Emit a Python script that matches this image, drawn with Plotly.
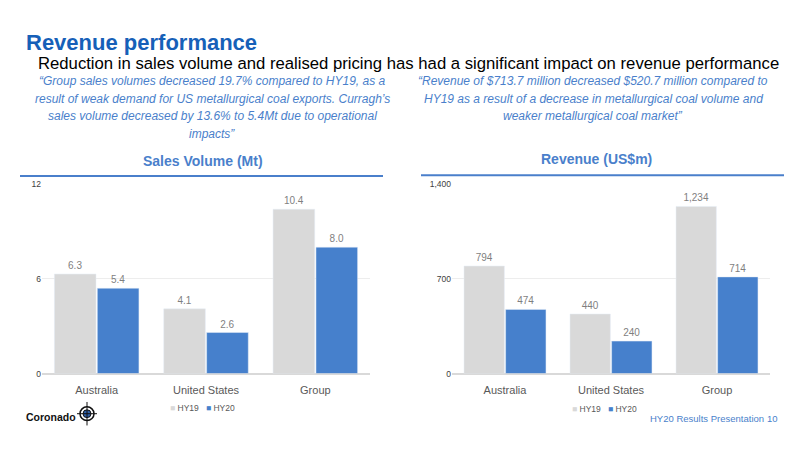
import plotly.graph_objects as go

categories = ["Australia", "United States", "Group"]
volume_hy19 = [6.3, 4.1, 10.4]
volume_hy20 = [5.4, 2.6, 8.0]
revenue_hy19 = [794, 440, 1234]
revenue_hy20 = [474, 240, 714]
volume_ticks = [0, 6, 12]
revenue_ticks = [0, 700, 1400]

GRAY = "#D9D9D9"
BLUE = "#4680CC"
TXT_BLUE = "#4A7FCB"
FONT = "Liberation Sans, Arial, sans-serif"

W, H = 800, 450
def px(x):
    return x / W
def py(y):
    return 1 - y / H

fig = go.Figure()

label_font = dict(family=FONT, size=10, color="#7F7F7F")

fig.add_trace(go.Bar(x=categories, y=volume_hy19, name="HY19", marker_color=GRAY,
                     texttemplate="%{y:.1f}", textposition="outside", textfont=label_font,
                     cliponaxis=False, xaxis="x", yaxis="y", showlegend=False))
fig.add_trace(go.Bar(x=categories, y=volume_hy20, name="HY20", marker_color=BLUE,
                     texttemplate="%{y:.1f}", textposition="outside", textfont=label_font,
                     cliponaxis=False, xaxis="x", yaxis="y", showlegend=False))
fig.add_trace(go.Bar(x=categories, y=revenue_hy19, name="HY19", marker_color=GRAY,
                     texttemplate="%{y:,.0f}", textposition="outside", textfont=label_font,
                     cliponaxis=False, xaxis="x2", yaxis="y2", showlegend=False))
fig.add_trace(go.Bar(x=categories, y=revenue_hy20, name="HY20", marker_color=BLUE,
                     texttemplate="%{y:,.0f}", textposition="outside", textfont=label_font,
                     cliponaxis=False, xaxis="x2", yaxis="y2", showlegend=False))

ydom = [py(377), py(183)]
xaxis_common = dict(showgrid=False, showline=False, ticks="", fixedrange=True,
                    ticklabelstandoff=8,
                    tickfont=dict(family=FONT, size=11, color="#595959"))
yaxis_common = dict(showgrid=True, gridcolor="#EDEDED", gridwidth=1, zeroline=True,
                    zerolinecolor=GRAY, zerolinewidth=1.5, showline=False, ticks="",
                    tickfont=dict(family=FONT, size=8.5, color="#404040"))

fig.update_layout(
    width=W, height=H, margin=dict(l=0, r=0, t=0, b=0),
    paper_bgcolor="white", plot_bgcolor="white",
    barmode="group", bargap=0.215, bargroupgap=0.03,
    xaxis=dict(domain=[px(42), px(370)], anchor="y", **xaxis_common),
    yaxis=dict(domain=ydom, anchor="x", range=[0, 12], tickvals=volume_ticks, **yaxis_common),
    xaxis2=dict(domain=[px(452), px(770)], anchor="y2", **xaxis_common),
    yaxis2=dict(domain=ydom, anchor="x2", range=[0, 1400], tickvals=revenue_ticks,
                tickformat=",", **yaxis_common),
)

ann = []
def text(x, y, s, size, color, bold=False, italic=False, xanchor="left"):
    ann.append(dict(x=px(x), y=py(y), xref="paper", yref="paper", text=s, showarrow=False,
                    xanchor=xanchor, yanchor="middle",
                    font=dict(family=FONT, size=size, color=color,
                              weight="bold" if bold else "normal",
                              style="italic" if italic else "normal")))

text(24, 38, "Revenue performance", 22, "#1660B8", bold=True)
text(36, 60, "Reduction in sales volume and realised pricing has had a significant impact on revenue performance", 16.7, "#000000")

left_quote = ["“Group sales volumes decreased 19.7% compared to HY19, as a",
              "result of weak demand for US metallurgical coal exports. Curragh’s",
              "sales volume decreased by 13.6% to 5.4Mt due to operational",
              "impacts”"]
for i, line in enumerate(left_quote):
    text(212, 78 + i * 18, line, 12, TXT_BLUE, italic=True, xanchor="center")
right_quote = ["“Revenue of $713.7 million decreased $520.7 million compared to",
               "HY19 as a result of a decrease in metallurgical coal volume and",
               "weaker metallurgical coal market”"]
for i, line in enumerate(right_quote):
    text(593, 78 + i * 18, line, 12, TXT_BLUE, italic=True, xanchor="center")

text(203, 160, "Sales Volume (Mt)", 14, TXT_BLUE, bold=True, xanchor="center")
text(596, 157, "Revenue (US$m)", 14, TXT_BLUE, bold=True, xanchor="center")

legend_txt = (f"<span style='color:{GRAY}'>■</span> <span style='color:#595959'>HY19</span>"
              f"   <span style='color:{BLUE}'>■</span> <span style='color:#595959'>HY20</span>")
text(202, 412, legend_txt, 8.5, "#595959", xanchor="center")
text(604, 413, legend_txt, 8.5, "#595959", xanchor="center")

text(648, 423, "HY20 Results Presentation", 9.5, TXT_BLUE)
text(765, 423, "10", 9.5, TXT_BLUE)

text(24, 421, "Coronado", 10.5, "#111111", bold=True)

fig.update_layout(annotations=ann)

shapes = [
    dict(type="line", xref="paper", yref="paper", x0=px(20), x1=px(383), y0=py(175), y1=py(175),
         line=dict(color=TXT_BLUE, width=2)),
    dict(type="line", xref="paper", yref="paper", x0=px(421), x1=px(784), y0=py(174), y1=py(174),
         line=dict(color=TXT_BLUE, width=2)),
    # logo icon
    dict(type="circle", xref="paper", yref="paper", x0=px(80), x1=px(94), y0=py(425), y1=py(411),
         line=dict(color="#111111", width=1.5), fillcolor="white"),
    dict(type="circle", xref="paper", yref="paper", x0=px(83), x1=px(91), y0=py(422), y1=py(414),
         line=dict(color="#111111", width=1), fillcolor="#2E5FA8"),
    dict(type="line", xref="paper", yref="paper", x0=px(87), x1=px(87), y0=py(406), y1=py(430),
         line=dict(color="#111111", width=1)),
    dict(type="line", xref="paper", yref="paper", x0=px(77), x1=px(97), y0=py(418), y1=py(418),
         line=dict(color="#111111", width=1)),
]
fig.update_layout(shapes=shapes)

fig.write_html("out.html")
